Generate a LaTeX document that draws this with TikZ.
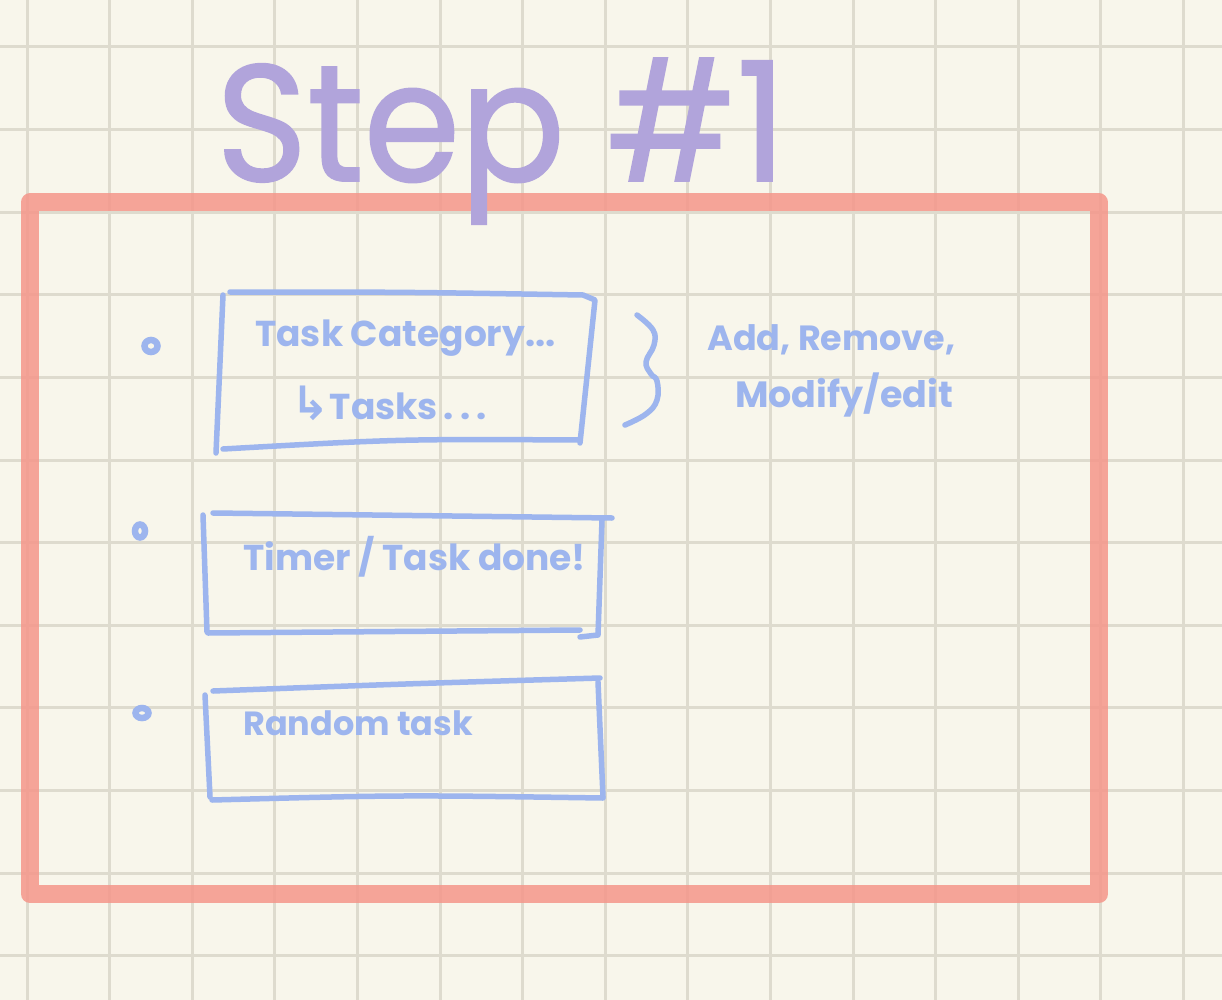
\documentclass[tikz,border=0pt]{standalone}
\usepackage{fontspec}
\usepackage{graphicx}
\newfontfamily\hand{Poppins}
\newfontfamily\headfont{Poppins}[FakeBold=1.2]
\newfontfamily\arrowfont{DejaVu Sans}
\definecolor{paper}{RGB}{248,246,235}
\definecolor{gridline}{RGB}{222,219,206}
\definecolor{frame}{RGB}{245,150,138}
\definecolor{ink}{RGB}{157,181,238}
\definecolor{lilac}{RGB}{177,164,219}
\begin{document}
\begin{tikzpicture}[x=1pt,y=-1pt,
  pen/.style={draw=ink, line width=5.5pt, line cap=round, line join=round},
  dot/.style={draw=ink, line width=6.5pt},
  label/.style={text=ink, font=\hand\bfseries\fontsize{35}{40}\selectfont, inner sep=0pt, anchor=base west},
  gridrule/.style={draw=gridline, line width=3pt},
  border/.style={draw=frame, draw opacity=.85, line width=18pt, line join=round}]
% paper and squared grid
\fill[paper] (0,0) rectangle (1222,1000);
\useasboundingbox (0,0) rectangle (1222,1000);
\foreach \i in {0,...,14} \draw[gridrule] ({27+82.6*\i},0) -- ({27+82.6*\i},1000);
\foreach \j in {0,...,11} \draw[gridrule] (0,{47+82.6*\j}) -- (1222,{47+82.6*\j});

% outer frame of the screen
\draw[border] (30,202.5) rectangle (1099,894);

% heading
\node[anchor=base west, text=lilac, inner sep=0pt, font=\headfont\fontsize{166}{170}\selectfont] (title) at (216,181) {\scalebox{0.935}[1]{Step \#1}};

% first card: categories and their tasks
\node[label, font=\hand\bfseries\fontsize{36}{40}\selectfont] (cat) at (255,346) {Task Category...};
\node[label, font=\hand\bfseries\fontsize{36}{40}\selectfont] (tasks) at (291,419) {{\arrowfont\fontsize{46}{46}\selectfont ↳}Tasks\,.\,.\,.};
\draw[pen] (223,295) -- (216,453);
\draw[pen] (230,292) .. controls (400,292) .. (583,295) -- (595,300) -- (580,443);
\draw[pen] (223,449) .. controls (400,439) .. (580,440);
\draw[dot] (151,346) ellipse (6.5 and 6);

% brace and the actions it groups
\draw[pen] plot[smooth, tension=.7] coordinates {(637,315) (653,330) (654,345) (646,362) (651,374) (657,381) (657,400) (646,414) (625,425)};
\node[label] (ops1) at (707,350) {Add, Remove,};
\node[label, font=\hand\bfseries\fontsize{36.5}{40}\selectfont] (ops2) at (735,407) {Modify/edit};

% second card: timer
\node[label, font=\hand\bfseries\fontsize{36}{40}\selectfont] (timer) at (243,570) {Timer / Task done!};
\draw[pen] (203,515) -- (207,632);
\draw[pen] (213,513) -- (612,518);
\draw[pen] (602,520) -- (598,635) -- (580,637);
\draw[pen] (208,633) -- (580,630);
\draw[dot] (140,531) ellipse (5 and 6.5);

% third card: random task
\node[label, font=\hand\bfseries\fontsize{33.5}{38}\selectfont] (random) at (243,735) {Random task};
\draw[pen] (213,691) .. controls (400,684) .. (600,678);
\draw[pen] (205,695) -- (210,797);
\draw[pen] (598,682) -- (603,797);
\draw[pen] (212,800) .. controls (400,795) .. (603,798);
\draw[dot] (142,713) ellipse (6.5 and 5);
\end{tikzpicture}
\end{document}
